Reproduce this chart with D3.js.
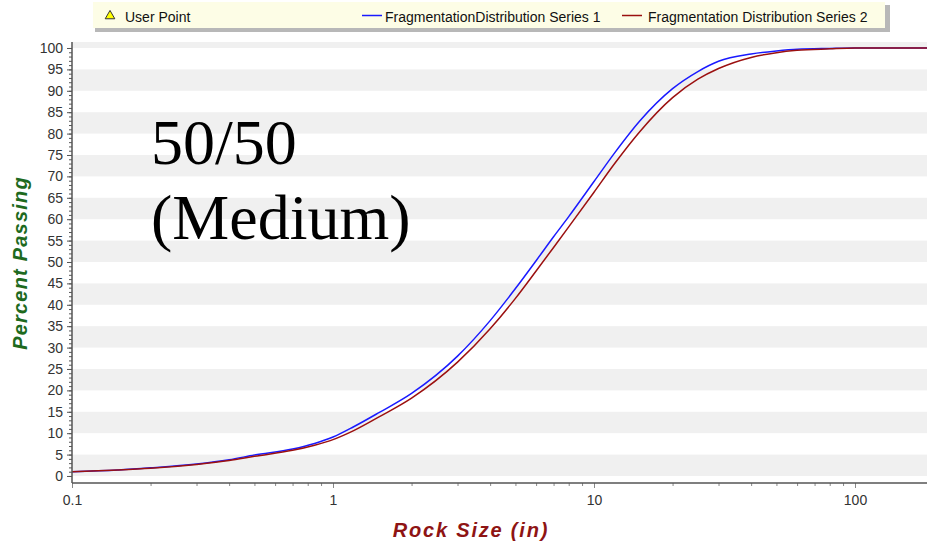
<!DOCTYPE html>
<html>
<head>
<meta charset="utf-8">
<script src="https://cdn.jsdelivr.net/npm/d3@7"></script>
<style>
  html, body { margin: 0; padding: 0; background: #ffffff; }
  svg { display: block; }
</style>
</head>
<body>
<svg id="chart" width="927" height="543"></svg>
<script>
// ---- data ----
const rockSizes = [0.1, 0.15, 0.2, 0.3, 0.4, 0.5, 0.7, 0.85, 1, 1.2, 1.5, 2, 3, 4, 5, 6, 7, 8, 10, 12, 15, 20, 25, 30, 40, 50, 60, 80, 100, 200];
const series1 = [1.0, 1.4, 1.9, 2.8, 3.8, 4.9, 6.3, 7.6, 9.1, 11.5, 14.8, 19.3, 28.0, 36.3, 43.8, 50.3, 55.9, 60.6, 68.8, 75.5, 83.0, 90.5, 94.5, 96.9, 98.6, 99.3, 99.7, 99.9, 100, 100];
const series2 = [1.0, 1.4, 1.8, 2.7, 3.6, 4.6, 6.0, 7.2, 8.5, 10.6, 13.8, 18.2, 26.6, 34.4, 41.5, 47.9, 53.4, 58.2, 66.3, 73.0, 80.5, 88.4, 92.7, 95.2, 97.8, 98.9, 99.45, 99.8, 100, 100];
const seriesNames = ["FragmentationDistribution Series 1", "Fragmentation Distribution Series 2"];
const seriesColors = ["#1a1aff", "#9b1010"];
const xTickLabels = [0.1, 1, 10, 100];
const xMinorTicks = [0.2,0.3,0.4,0.5,0.6,0.7,0.8,0.9,2,3,4,5,6,7,8,9,20,30,40,50,60,70,80,90,200];
const yTickLabels = d3.range(0, 101, 5);
const yMinorTicks = d3.range(0, 101, 1);
const bandStarts = d3.range(0, 101, 10);

// ---- layout ----
const svg = d3.select("#chart");
const plot = { left: 72, top: 42, right: 927, bottom: 483 };

const x = d3.scaleLog().domain([0.1, 200]).range([72, 72 + 261 * Math.log10(2000)]);
const y = d3.scaleLinear().domain([-1.64, 101.4]).range([plot.bottom, plot.top]);

svg.append("defs").append("clipPath").attr("id", "clip")
  .append("rect").attr("x", plot.left).attr("y", plot.top)
  .attr("width", plot.right - plot.left).attr("height", plot.bottom - plot.top);

// plot background and bands
const g = svg.append("g").attr("clip-path", "url(#clip)");
g.append("rect").attr("x", plot.left).attr("y", plot.top)
  .attr("width", plot.right - plot.left).attr("height", plot.bottom - plot.top)
  .attr("fill", "#ffffff");
g.selectAll("rect.band").data(bandStarts).join("rect")
  .attr("class", "band")
  .attr("x", plot.left)
  .attr("width", plot.right - plot.left)
  .attr("y", d => y(d + 5))
  .attr("height", d => y(d) - y(d + 5))
  .attr("fill", "#f0f0f0");

// lines
const line = d3.line().x(d => x(d[0])).y(d => y(d[1])).curve(d3.curveMonotoneX);
[series1, series2].forEach((s, i) => {
  g.append("path")
    .datum(rockSizes.map((r, j) => [r, s[j]]))
    .attr("d", line)
    .attr("fill", "none")
    .attr("stroke", seriesColors[i])
    .attr("stroke-width", 1.5);
});

// axes
const axisColor = "#555";
const labelFont = "'Liberation Sans', Arial, sans-serif";

const yMinor = svg.append("g").attr("transform", `translate(${plot.left},0)`)
  .call(d3.axisLeft(y).tickValues(yMinorTicks).tickSize(3).tickFormat(""));
const yMajor = svg.append("g").attr("transform", `translate(${plot.left},0)`)
  .call(d3.axisLeft(y).tickValues(yTickLabels).tickSize(5).tickPadding(4).tickFormat(d3.format("d")));
[yMinor, yMajor].forEach(a => {
  a.select(".domain").remove();
  a.selectAll("line").attr("stroke", axisColor);
});
yMajor.selectAll("text").attr("font-family", labelFont).attr("font-size", 14).attr("fill", "#333");
svg.append("line").attr("x1", plot.left).attr("x2", plot.left)
  .attr("y1", plot.top).attr("y2", plot.bottom).attr("stroke", axisColor).attr("stroke-width", 1.5);

const xMinor = svg.append("g").attr("transform", `translate(0,${plot.bottom})`)
  .call(d3.axisBottom(x).tickValues(xMinorTicks).tickSize(3).tickFormat(""));
const xMajor = svg.append("g").attr("transform", `translate(0,${plot.bottom})`)
  .call(d3.axisBottom(x).tickValues(xTickLabels).tickSize(5).tickPadding(7).tickFormat(d => String(d)));
[xMinor, xMajor].forEach(a => {
  a.select(".domain").remove();
  a.selectAll("line").attr("stroke", "#888");
});
xMajor.selectAll("text").attr("font-family", labelFont).attr("font-size", 14).attr("fill", "#333");
svg.append("line").attr("x1", plot.left).attr("x2", plot.right)
  .attr("y1", plot.bottom).attr("y2", plot.bottom).attr("stroke", axisColor).attr("stroke-width", 1.5);

// axis titles
svg.append("text")
  .attr("transform", "translate(27,263) rotate(-90)")
  .attr("text-anchor", "middle")
  .attr("font-family", labelFont).attr("font-size", 20)
  .attr("font-weight", "bold").attr("font-style", "italic")
  .attr("letter-spacing", 1.2)
  .attr("fill", "#1e6a1e")
  .text("Percent Passing");
svg.append("text")
  .attr("x", 471).attr("y", 537)
  .attr("text-anchor", "middle")
  .attr("font-family", labelFont).attr("font-size", 20)
  .attr("font-weight", "bold").attr("font-style", "italic")
  .attr("letter-spacing", 1.8)
  .attr("fill", "#8e1414")
  .text("Rock Size (in)");

// big annotation
const ann = svg.append("text")
  .attr("font-family", "'Liberation Serif', 'Times New Roman', serif")
  .attr("font-size", 64).attr("fill", "#000");
ann.append("tspan").attr("x", 151).attr("y", 164).text("50/50");
ann.append("tspan").attr("x", 151).attr("y", 239).text("(Medium)");

// legend
const leg = svg.append("g");
leg.append("rect").attr("x", 95).attr("y", 5).attr("width", 795).attr("height", 27).attr("fill", "#b8b8b8");
leg.append("rect").attr("x", 93).attr("y", 2).attr("width", 792).attr("height", 26).attr("fill", "#fdfde6");
leg.append("path")
  .attr("d", d3.symbol().type(d3.symbolTriangle).size(40)())
  .attr("transform", "translate(110,16)")
  .attr("fill", "#ffff00").attr("stroke", "#333").attr("stroke-width", 1);
leg.append("text").attr("x", 125).attr("y", 21.5)
  .attr("font-family", labelFont).attr("font-size", 14).attr("fill", "#111")
  .text("User Point");
const legItems = [{ x1: 362, x2: 382, tx: 385 }, { x1: 622, x2: 642, tx: 648 }];
legItems.forEach((it, i) => {
  leg.append("line").attr("x1", it.x1).attr("x2", it.x2).attr("y1", 15.5).attr("y2", 15.5)
    .attr("stroke", seriesColors[i]).attr("stroke-width", 1.5);
  leg.append("text").attr("x", it.tx).attr("y", 21.5)
    .attr("font-family", labelFont).attr("font-size", 14).attr("fill", "#111")
    .text(seriesNames[i]);
});
</script>
</body>
</html>
